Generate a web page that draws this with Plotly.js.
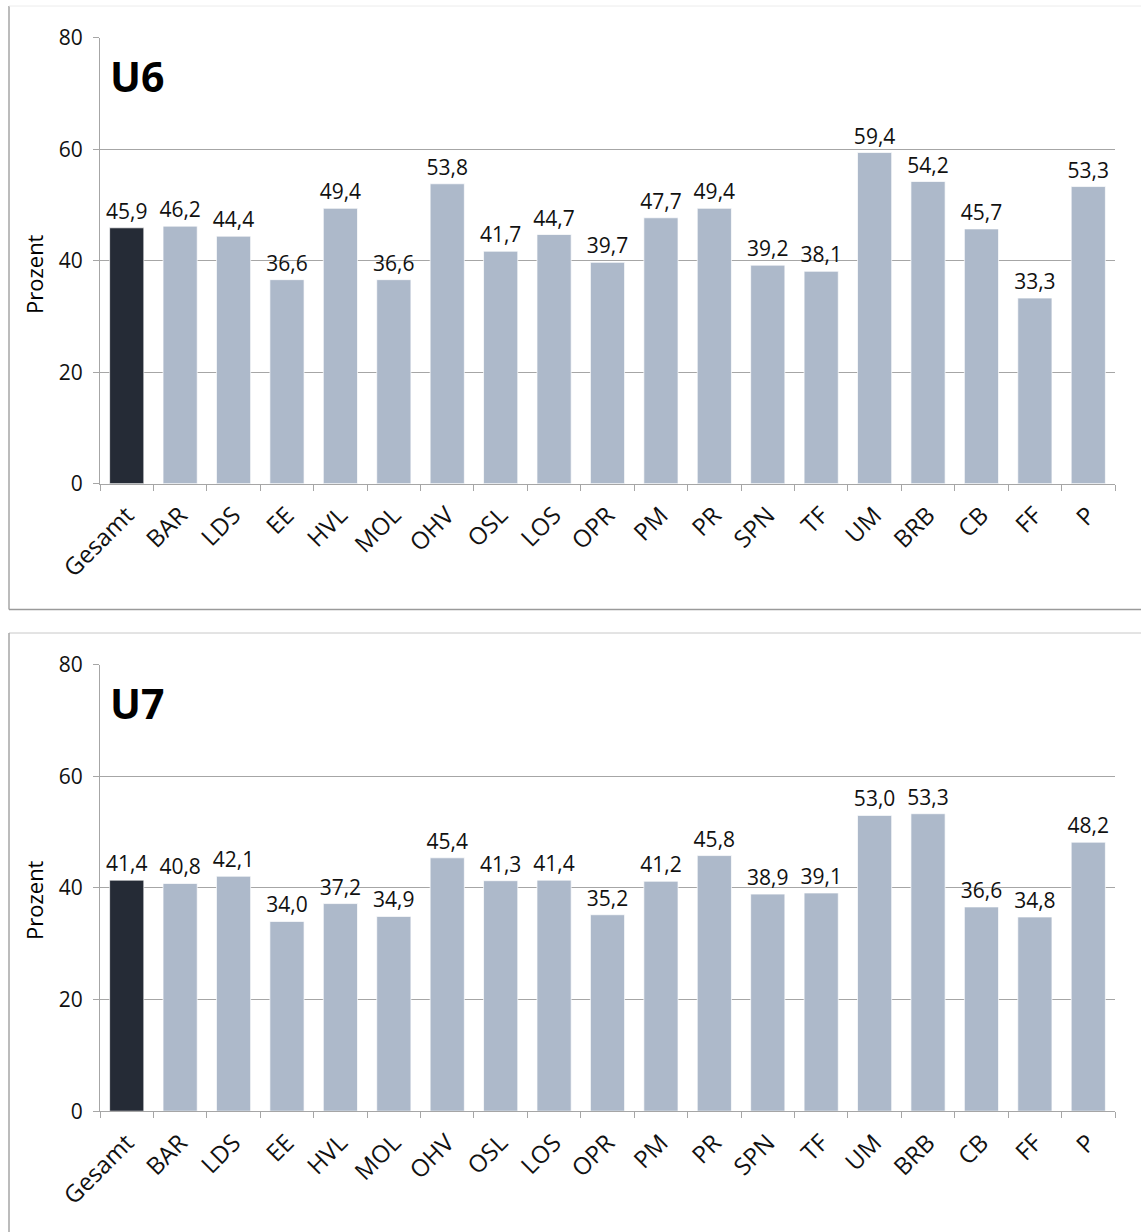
<!DOCTYPE html>
<html>
<head>
<meta charset="utf-8">
<script src="https://cdn.plot.ly/plotly-3.0.1.min.js"></script>
<style>html,body{margin:0;padding:0;background:#fff;}#chart{width:1141px;height:1232px;}</style>
</head>
<body>
<div id="chart"></div>
<script>
const categories = ["Gesamt","BAR","LDS","EE","HVL","MOL","OHV","OSL","LOS","OPR","PM","PR","SPN","TF","UM","BRB","CB","FF","P"];
const valuesU6 = [45.9,46.2,44.4,36.6,49.4,36.6,53.8,41.7,44.7,39.7,47.7,49.4,39.2,38.1,59.4,54.2,45.7,33.3,53.3];
const valuesU7 = [41.4,40.8,42.1,34.0,37.2,34.9,45.4,41.3,41.4,35.2,41.2,45.8,38.9,39.1,53.0,53.3,36.6,34.8,48.2];
const yTicks = [0,20,40,60,80];
const panelTitles = ["U6","U7"];
const yTitle = "Prozent";

const W = 1141, H = 1232;
const DARK = "#252b36", LIGHT = "#adb9ca", GRID = "#a6a6a6";
const FONT = "Open Sans, Noto Sans, sans-serif";
const fmt = v => v.toFixed(1).replace(".", ",");
const colors = categories.map((c,i) => i === 0 ? DARK : LIGHT);

function px2y(p){ return 1 - p / H; }
function px2x(p){ return p / W; }

function trace(vals, xa, ya){
  return {
    type: "bar", x: categories, y: vals, xaxis: xa, yaxis: ya,
    marker: {color: colors, line: {color: "rgba(255,255,255,0.7)", width: 1}},
    text: vals.map(fmt), textposition: "outside", constraintext: "none",
    cliponaxis: false,
    textfont: {family: FONT, size: 21, color: "#111"},
    hoverinfo: "x+y", showlegend: false
  };
}

const xDom = [px2x(100), px2x(1115)];
function xAxis(anchor){
  return {
    domain: xDom, anchor: anchor, type: "category",
    showgrid: false, showline: true, linecolor: GRID, linewidth: 1,
    ticks: "outside", tickson: "boundaries", ticklen: 6, tickcolor: GRID,
    tickangle: -45, tickfont: {family: FONT, size: 24, color: "#111"},
    ticklabelstandoff: 7, fixedrange: true
  };
}
function yAxis(anchor, dom){
  return {
    domain: dom, anchor: anchor, range: [0, 80], tickvals: yTicks,
    showgrid: true, gridcolor: GRID, gridwidth: 1, zeroline: false,
    showline: true, linecolor: GRID, linewidth: 1,
    ticks: "outside", ticklen: 6, tickcolor: GRID,
    tickfont: {family: FONT, size: 21, color: "#111"},
    ticklabelstandoff: 6, fixedrange: true
  };
}

const top1 = 37.7, bot1 = 483.7, top2 = 664.7, bot2 = 1111.2;

const layout = {
  width: W, height: H, margin: {l: 0, r: 0, t: 0, b: 0},
  paper_bgcolor: "#fff", plot_bgcolor: "#fff",
  bargap: 0.36,
  font: {family: FONT},
  xaxis: xAxis("y"), yaxis: yAxis("x", [px2y(bot1), px2y(top1)]),
  xaxis2: xAxis("y2"), yaxis2: yAxis("x2", [px2y(bot2), px2y(top2)]),
  annotations: [
    {text: "<b>" + panelTitles[0] + "</b>", xref: "paper", yref: "paper", x: px2x(108), y: px2y(76), xanchor: "left", yanchor: "middle", showarrow: false, font: {family: FONT, size: 41, color: "#000"}},
    {text: "<b>" + panelTitles[1] + "</b>", xref: "paper", yref: "paper", x: px2x(108), y: px2y(703), xanchor: "left", yanchor: "middle", showarrow: false, font: {family: FONT, size: 41, color: "#000"}},
    {text: yTitle, xref: "paper", yref: "paper", x: px2x(34), y: px2y(274), xanchor: "center", yanchor: "middle", textangle: -90, showarrow: false, font: {family: FONT, size: 22, color: "#000"}},
    {text: yTitle, xref: "paper", yref: "paper", x: px2x(34), y: px2y(900), xanchor: "center", yanchor: "middle", textangle: -90, showarrow: false, font: {family: FONT, size: 22, color: "#000"}}
  ],
  shapes: [
    {type: "line", xref: "paper", yref: "paper", x0: px2x(9), x1: px2x(9), y0: px2y(6), y1: px2y(609.5), line: {color: "#a6a6a6", width: 1.5}},
    {type: "line", xref: "paper", yref: "paper", x0: px2x(9), x1: 1, y0: px2y(609.5), y1: px2y(609.5), line: {color: "#9a9a9a", width: 1.5}},
    {type: "line", xref: "paper", yref: "paper", x0: px2x(9), x1: 1, y0: px2y(6), y1: px2y(6), line: {color: "#ececec", width: 1}},
    {type: "line", xref: "paper", yref: "paper", x0: px2x(9), x1: 1, y0: px2y(633), y1: px2y(633), line: {color: "#c8c8c8", width: 1}},
    {type: "line", xref: "paper", yref: "paper", x0: px2x(9), x1: px2x(9), y0: px2y(633), y1: 0, line: {color: "#a6a6a6", width: 1.5}}
  ]
};

Plotly.newPlot("chart", [trace(valuesU6, "x", "y"), trace(valuesU7, "x2", "y2")], layout, {displayModeBar: false, staticPlot: true});
</script>
</body>
</html>
